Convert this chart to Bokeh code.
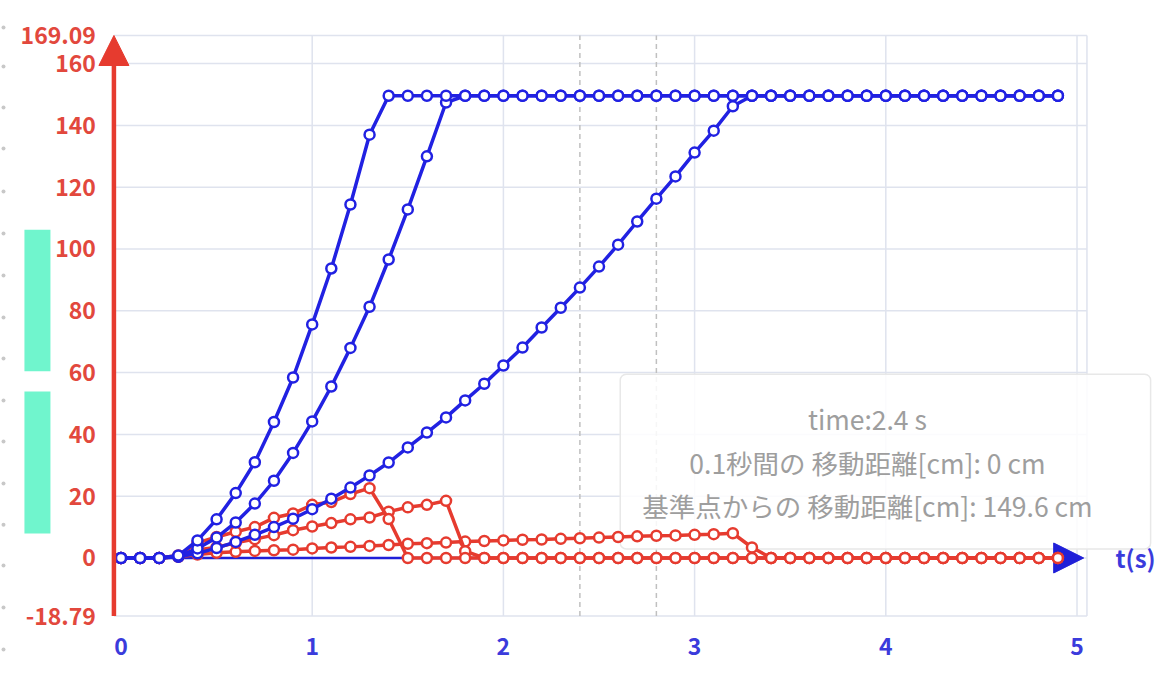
from bokeh.plotting import figure
from bokeh.models import Range1d, Arrow, NormalHead, Label, ColumnDataSource
from bokeh.core.properties import value
from bokeh.embed import file_html
from bokeh.resources import INLINE

# ---------------- data ----------------
time_s = [0.0, 0.1, 0.2, 0.3, 0.4, 0.5, 0.6, 0.7, 0.8, 0.9,
          1.0, 1.1, 1.2, 1.3, 1.4, 1.5, 1.6, 1.7, 1.8, 1.9,
          2.0, 2.1, 2.2, 2.3, 2.4, 2.5, 2.6, 2.7, 2.8, 2.9,
          3.0, 3.1, 3.2, 3.3, 3.4, 3.5, 3.6, 3.7, 3.8, 3.9,
          4.0, 4.1, 4.2, 4.3, 4.4, 4.5, 4.6, 4.7, 4.8, 4.9]

# cumulative distance from reference point [cm]
dist_1 = [0, 0, 0, 0.8, 5.7, 12.5, 21.0, 31.0, 44.0, 58.4,
          75.6, 93.7, 114.4, 137.0, 149.6, 149.6, 149.6, 149.6, 149.6, 149.6,
          149.6, 149.6, 149.6, 149.6, 149.6, 149.6, 149.6, 149.6, 149.6, 149.6,
          149.6, 149.6, 149.6, 149.6, 149.6, 149.6, 149.6, 149.6, 149.6, 149.6,
          149.6, 149.6, 149.6, 149.6, 149.6, 149.6, 149.6, 149.6, 149.6, 149.6]
dist_2 = [0, 0, 0, 0.5, 3.1, 6.6, 11.5, 17.6, 25.0, 34.0,
          44.2, 55.5, 68.0, 81.3, 96.6, 112.8, 130.0, 147.4, 149.6, 149.6,
          149.6, 149.6, 149.6, 149.6, 149.6, 149.6, 149.6, 149.6, 149.6, 149.6,
          149.6, 149.6, 149.6, 149.6, 149.6, 149.6, 149.6, 149.6, 149.6, 149.6,
          149.6, 149.6, 149.6, 149.6, 149.6, 149.6, 149.6, 149.6, 149.6, 149.6]
dist_3 = [0, 0, 0, 0.4, 1.5, 3.2, 5.2, 7.5, 10.0, 12.7,
          15.8, 19.2, 22.8, 26.7, 30.9, 35.8, 40.6, 45.5, 51.0, 56.4,
          62.3, 68.1, 74.6, 81.0, 87.5, 94.3, 101.4, 108.9, 116.3, 123.5,
          131.2, 138.3, 146.2, 149.6, 149.6, 149.6, 149.6, 149.6, 149.6, 149.6,
          149.6, 149.6, 149.6, 149.6, 149.6, 149.6, 149.6, 149.6, 149.6, 149.6]

# distance moved during each 0.1 s [cm]
step_1 = [0, 0, 0, 0.8, 4.9, 6.8, 8.5, 10.0, 13.0, 14.4,
          17.2, 18.1, 20.7, 22.6, 12.6, 0, 0, 0, 0, 0,
          0, 0, 0, 0, 0, 0, 0, 0, 0, 0,
          0, 0, 0, 0, 0, 0, 0, 0, 0, 0,
          0, 0, 0, 0, 0, 0, 0, 0, 0, 0]
step_2 = [0, 0, 0, 0.5, 2.6, 3.5, 4.9, 6.1, 7.4, 9.0,
          10.2, 11.3, 12.5, 13.1, 15.0, 16.4, 17.2, 18.5, 2.2, 0,
          0, 0, 0, 0, 0, 0, 0, 0, 0, 0,
          0, 0, 0, 0, 0, 0, 0, 0, 0, 0,
          0, 0, 0, 0, 0, 0, 0, 0, 0, 0]
step_3 = [0, 0, 0, 0.4, 1.1, 1.7, 2.0, 2.3, 2.5, 2.7,
          3.1, 3.4, 3.6, 3.9, 4.2, 4.6, 4.8, 5.0, 5.3, 5.5,
          5.7, 5.9, 6.0, 6.2, 6.4, 6.6, 6.8, 7.0, 7.2, 7.3,
          7.5, 7.7, 8.0, 3.4, 0, 0, 0, 0, 0, 0,
          0, 0, 0, 0, 0, 0, 0, 0, 0, 0]

x_ticks = [0, 1, 2, 3, 4, 5]
x_tick_labels = ["0", "1", "2", "3", "4", "5"]
y_ticks = [-18.79, 0, 20, 40, 60, 80, 100, 120, 140, 160, 169.09]
y_tick_labels = ["-18.79", "0", "20", "40", "60", "80", "100", "120", "140", "160", "169.09"]
x_axis_title = "t(s)"

# pointer lines and tooltip
pointer_times = [2.4, 2.8]
tip_time = 2.4
tip_step = 0
tip_dist = 149.6
name_step = "0.1秒間の 移動距離[cm]"
name_dist = "基準点からの 移動距離[cm]"

# decorative green bars at the far left (value ranges)
bar_bottoms = [60.4, 7.9]
bar_tops = [106.2, 53.9]
# faint ruler dots along the far left edge (value positions)
ruler_marks = [171.7, 159.1, 145.8, 132.5, 118.6, 105.0, 91.4, 77.8,
               64.6, 51.0, 37.7, 24.1, 10.8, -2.4, -16.0, -29.6]

# ---------------- layout / styles ----------------
BLUE = "#2121e2"
AXIS_BLUE = "#1f1fd8"
RED = "#e63b2f"
GRID = "#dfe3ee"
FONT = "Noto Sans CJK JP"

axis_x = -0.037          # where the red value axis stands
plot_right = 5.052       # right border of the plotting area
y_lo, y_hi = y_ticks[0], y_ticks[-1]
x_label_y = -28.5        # row of the time labels
bar_left, bar_right = -0.505, -0.369
ruler_x = -0.6145

p = figure(width=1158, height=676, output_backend="svg", toolbar_location=None,
           x_range=Range1d(-0.6302, 5.4262), y_range=Range1d(-38.35, 180.42),
           x_axis_location=None, y_axis_location=None, min_border=0)
p.min_border_left = p.min_border_right = 0
p.min_border_top = p.min_border_bottom = 0
p.background_fill_color = "white"
p.border_fill_color = "white"
p.outline_line_color = None
p.xgrid.visible = False
p.ygrid.visible = False

# grid (bounded to the plotting area)
p.segment(x0=axis_x, x1=plot_right, y0=y_ticks, y1=y_ticks,
          line_color=GRID, line_width=1.5, level="underlay")
p.segment(x0=x_ticks[1:] + [plot_right], x1=x_ticks[1:] + [plot_right],
          y0=y_lo, y1=y_hi, line_color=GRID, line_width=1.5, level="underlay")

# pointer lines
p.segment(x0=pointer_times, x1=pointer_times, y0=y_lo, y1=y_hi,
          line_color="#c0c0c0", line_dash="5 4", line_width=1.5, level="underlay")

# green bars and ruler dots at left
p.quad(left=bar_left, right=bar_right, bottom=bar_bottoms, top=bar_tops,
       fill_color="#70f5cd", line_color=None, level="underlay")
p.scatter(x=ruler_x, y=ruler_marks, marker="circle", size=4,
          fill_color="#c8c8c8", line_color=None, level="underlay")

# tooltip box
tip_text = f"time:{tip_time} s\n{name_step}: {tip_step} cm\n{name_dist}: {tip_dist} cm"
p.add_layout(Label(x=3.998, y=31.2, text=tip_text, text_align="center",
                   text_baseline="middle", text_font=FONT,
                   text_font_size="26.5px", text_color="#9e9e9e",
                   text_line_height=1.11,
                   background_fill_color="white", background_fill_alpha=0.86,
                   border_line_color="#e8e8e8", border_line_width=1.5,
                   border_radius=6,
                   padding=dict(left=22, right=58, top=25, bottom=24),
                   level="underlay"))

# time axis arrow (blue)
p.add_layout(Arrow(x_start=axis_x, y_start=0, x_end=5.035, y_end=0,
                   line_color=AXIS_BLUE, line_width=2.5, level="underlay",
                   end=NormalHead(size=30, fill_color=AXIS_BLUE,
                                  line_color=AXIS_BLUE)))

# tick labels
p.text(x=axis_x, y=y_ticks, text=y_tick_labels, x_offset=-18,
       text_align="right", text_baseline="middle", text_font=value(FONT),
       text_font_size="23px", text_font_style="bold", text_color="#e2483d")
p.text(x=x_ticks, y=x_label_y, text=x_tick_labels,
       text_align="center", text_baseline="middle", text_font=value(FONT),
       text_font_size="23px", text_font_style="bold", text_color="#3b3bdc")

# series
src = ColumnDataSource(dict(t=time_s, d1=dist_1, d2=dist_2, d3=dist_3,
                            s1=step_1, s2=step_2, s3=step_3))
for col, color in (("s3", RED), ("s2", RED), ("s1", RED),
                   ("d3", BLUE), ("d2", BLUE), ("d1", BLUE)):
    p.line("t", col, source=src, line_color=color, line_width=3.5)
    p.scatter("t", col, source=src, marker="circle", size=10,
              line_color=color, line_width=2.5, fill_color="white")

# value axis arrow (red)
p.add_layout(Arrow(x_start=axis_x, y_start=y_lo, x_end=axis_x, y_end=y_hi,
                   line_color=RED, line_width=4.5,
                   end=NormalHead(size=30, fill_color=RED, line_color=RED)))

p.add_layout(Label(x=5.306, y=0, text=x_axis_title, text_align="center",
                   text_baseline="middle", text_font=FONT,
                   text_font_size="24px", text_font_style="bold",
                   text_color="#3b3bdc"))

open("out.html", "w").write(file_html(p, INLINE))
